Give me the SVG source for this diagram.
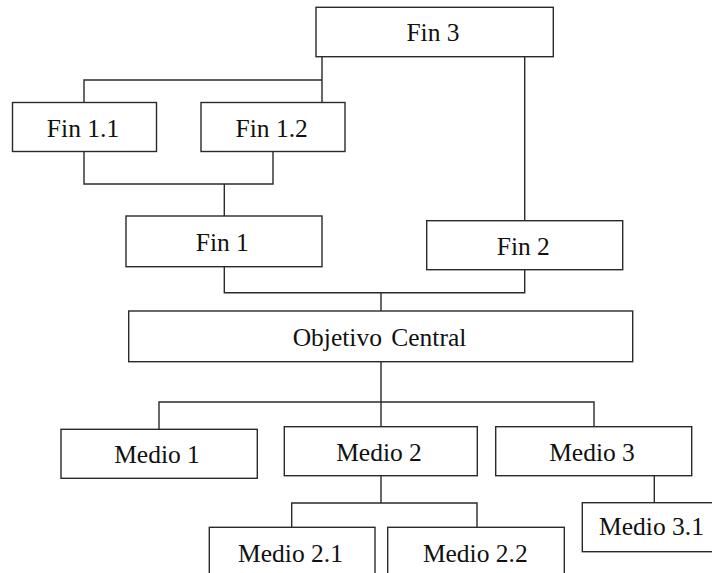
<svg xmlns="http://www.w3.org/2000/svg" width="712" height="573" viewBox="0 0 712 573">
<style>
.box{fill:#fff;stroke:#2a2a2a;stroke-width:1.4}
.lbl{font-family:'Liberation Serif','Times New Roman',serif;font-size:25.5px;fill:#111;text-anchor:middle}
.con{fill:none;stroke:#2a2a2a;stroke-width:1.4}
</style>
<rect width="712" height="573" fill="#fff"/>
<g id="connectors" class="con">
<path d="M322 57V102.5M322 80H84V102.5"/>
<path d="M524.7 57V220.7"/>
<path d="M84 151.5V184H273V151.5M224.3 184V216"/>
<path d="M224.3 266.7V292.7H524.7V269.7M381 292.7V311"/>
<path d="M381 361.7V426.7M159 429.3V402H594V426.7"/>
<path d="M381 475.7V503M291.7 527.3V503H477V527.3"/>
<path d="M654.3 475.7V502.7"/>
</g>
<g id="fin3"><rect class="box" x="316" y="7.3" width="237.3" height="49.4"/><text class="lbl" x="433" y="41">Fin 3</text></g>
<g id="fin11"><rect class="box" x="12.5" y="102.5" width="144" height="49"/><text class="lbl" x="83" y="136.5">Fin 1.1</text></g>
<g id="fin12"><rect class="box" x="201" y="102.5" width="144" height="49"/><text class="lbl" x="271.7" y="136.5">Fin 1.2</text></g>
<g id="fin1"><rect class="box" x="126" y="216" width="196" height="50.7"/><text class="lbl" x="222.3" y="250.7">Fin 1</text></g>
<g id="fin2"><rect class="box" x="426.7" y="220.7" width="196" height="49"/><text class="lbl" x="523.3" y="255">Fin 2</text></g>
<g id="objetivo"><rect class="box" x="128.7" y="311" width="504" height="50.7"/><text class="lbl" x="379.5" y="345.7" word-spacing="3">Objetivo Central</text></g>
<g id="medio1"><rect class="box" x="61" y="429.3" width="196.3" height="49"/><text class="lbl" x="157" y="463.3">Medio 1</text></g>
<g id="medio2"><rect class="box" x="284.3" y="426.7" width="193" height="49"/><text class="lbl" x="379" y="461">Medio 2</text></g>
<g id="medio3"><rect class="box" x="495.7" y="426.7" width="196" height="49"/><text class="lbl" x="592" y="461">Medio 3</text></g>
<g id="medio31"><rect class="box" x="582.3" y="502.7" width="145" height="49"/><text class="lbl" x="651.5" y="535">Medio 3.1</text></g>
<g id="medio21"><rect class="box" x="209.3" y="527.3" width="165.7" height="60"/><text class="lbl" x="290.5" y="561.7">Medio 2.1</text></g>
<g id="medio22"><rect class="box" x="387.7" y="527.3" width="176.6" height="60"/><text class="lbl" x="475.3" y="561.7">Medio 2.2</text></g>
</svg>
